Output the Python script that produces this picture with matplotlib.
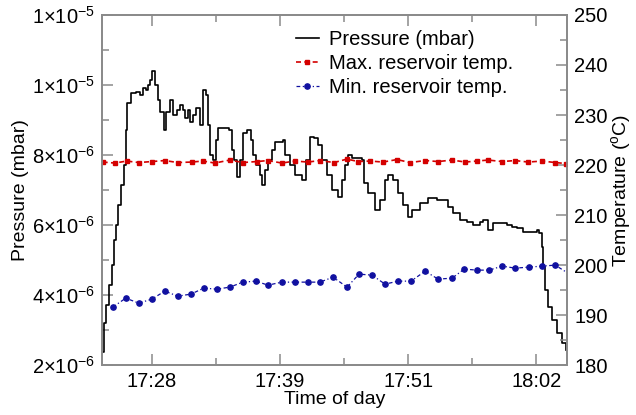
"""Pressure and reservoir temperatures vs time of day (twin y axes)."""
import matplotlib
matplotlib.use("Agg")
import matplotlib.pyplot as plt
from matplotlib.ticker import FixedLocator, MultipleLocator

plt.rcParams["font.family"] = ["Liberation Sans", "DejaVu Sans"]
plt.rcParams["mathtext.fontset"] = "custom"
plt.rcParams["mathtext.rm"] = "Liberation Sans"
plt.rcParams["mathtext.it"] = "Liberation Sans:italic"

# time in minutes after 17:00
p_time = [23.82, 24.08, 24.26, 24.53, 24.79, 24.97, 25.14, 25.32, 25.59, 25.85,
          26.03, 26.12, 26.47, 26.91, 27.27, 27.53, 27.80, 27.98, 28.15, 28.33,
          28.60, 28.86, 29.04, 29.30, 29.39, 29.57, 29.92, 30.19, 30.54, 30.81,
          31.07, 31.25, 31.52, 31.69, 31.96, 32.22, 32.58, 32.84, 33.11, 33.29,
          33.46, 33.73, 34.00, 34.17, 34.88, 35.14, 35.41, 35.59, 35.85, 36.12,
          36.38, 36.74, 37.09, 37.27, 37.53, 37.89, 38.07, 38.33, 38.60, 38.95,
          39.21, 39.92, 40.10, 40.54, 40.99, 41.60, 41.96, 42.31, 42.67, 43.02,
          43.37, 43.82, 44.26, 44.79, 45.15, 45.41, 45.68, 46.03, 46.56, 46.92,
          47.09, 47.45, 48.07, 48.51, 48.95, 49.22, 49.66, 50.10, 50.54, 50.98,
          51.34, 52.05, 52.75, 53.55, 54.08, 54.52, 54.97, 55.59, 56.21, 56.74,
          57.35, 57.62, 58.06, 58.51, 59.13, 59.75, 60.19, 60.63, 61.16, 61.78,
          62.40, 62.58, 62.84, 62.93, 63.11, 63.38, 63.73, 64.17, 64.61, 64.97]
# pressure in units of 1e-6 mbar
pressure = [2.37, 3.20, 3.71, 4.29, 4.86, 5.57, 6.00, 6.57, 7.14, 7.71,
            8.71, 9.49, 9.77, 9.80, 9.71, 9.91, 9.86, 10.00, 10.14, 10.40,
            10.00, 9.57, 9.23, 9.23, 8.71, 9.23, 9.57, 9.14, 9.29, 9.43,
            9.29, 9.06, 9.29, 8.94, 9.14, 9.34, 8.86, 9.86, 9.71, 8.86,
            8.00, 7.86, 8.43, 8.77, 8.77, 8.71, 8.14, 7.86, 7.37, 7.86,
            8.63, 8.71, 8.43, 8.00, 7.71, 7.43, 7.14, 7.57, 7.86, 8.14,
            8.37, 8.43, 8.00, 7.71, 7.43, 7.29, 7.86, 8.51, 8.49, 8.29,
            7.86, 7.43, 7.00, 6.80, 7.29, 7.71, 8.00, 7.91, 7.91, 7.86,
            7.20, 6.91, 6.43, 6.71, 7.29, 7.43, 7.29, 6.91, 6.57, 6.23,
            6.43, 6.63, 6.77, 6.71, 6.71, 6.51, 6.34, 6.14, 6.09, 6.00,
            6.09, 6.14, 5.86, 6.06, 6.06, 6.00, 5.94, 5.91, 5.80, 5.80,
            5.86, 5.77, 5.37, 4.80, 4.14, 3.66, 3.29, 2.91, 2.63, 2.43]

tmax_time = [23.99, 25.06, 26.12, 27.18, 28.33, 29.48, 30.63, 31.87, 32.84, 33.90,
             35.23, 36.38, 37.62, 38.60, 39.83, 40.98, 42.14, 43.20, 44.44, 45.59,
             46.56, 47.62, 48.77, 50.01, 51.16, 52.49, 53.64, 54.88, 56.03, 57.09,
             58.06, 59.30, 60.45, 61.60, 62.84, 63.99, 64.97]
tmax = [220.6, 220.4, 220.8, 220.5, 220.7, 220.9, 220.5, 220.6, 220.8, 220.4,
        221.0, 220.5, 220.7, 220.9, 220.4, 220.8, 220.6, 220.9, 220.5, 221.2,
        220.7, 220.8, 220.6, 221.1, 220.5, 220.9, 220.7, 221.0, 220.6, 220.8,
        221.0, 220.7, 220.9, 220.6, 220.8, 220.5, 220.3]

tmin_time = [24.88, 26.03, 27.18, 28.33, 29.48, 30.63, 31.78, 32.93, 34.08, 35.23,
             36.38, 37.53, 38.60, 39.83, 40.98, 42.14, 43.20, 44.35, 45.59, 46.65,
             47.80, 48.95, 50.10, 51.25, 52.49, 53.64, 54.88, 55.94, 57.09, 58.15,
             59.30, 60.45, 61.69, 62.84, 63.99, 64.97]
tmin = [191.6, 193.4, 192.4, 193.2, 194.8, 193.8, 194.2, 195.4, 195.2, 195.6,
        196.6, 196.8, 196.0, 196.6, 196.6, 196.6, 196.6, 197.6, 195.6, 198.2,
        198.0, 196.2, 196.8, 196.8, 198.8, 197.2, 197.4, 199.2, 199.0, 199.0,
        199.8, 199.4, 199.6, 199.8, 200.0, 198.6]

xticks = [28.33, 39.67, 51.00, 62.33]
xminor = [34.00, 45.33, 56.67]
xticklabels = ["17:28", "17:39", "17:51", "18:02"]
yticks = [2, 4, 6, 8, 10, 12]
yticklabels = [r"2$\times$10$^{-6}$", r"4$\times$10$^{-6}$", r"6$\times$10$^{-6}$",
               r"8$\times$10$^{-6}$", r"1$\times$10$^{-5}$", r"1$\times$10$^{-5}$"]

GRAY = "#8a8a8a"
RED, BLUE = "#d40000", "#1010a0"
FS = 14.5
LFS = 14

fig = plt.figure(figsize=(6.36, 4.15), dpi=100)
ax = fig.add_axes([0.160, 0.120, 0.732, 0.844])
ax2 = ax.twinx()

l1, = ax.plot(p_time, pressure, color="black", lw=1.2, drawstyle="steps-post",
              label="Pressure (mbar)")
l2, = ax2.plot(tmax_time, tmax, color=RED, lw=1.2, ls=(0, (3, 2)), marker="s", ms=3.5,
               label="Max. reservoir temp.")
l3, = ax2.plot(tmin_time, tmin, color=BLUE, lw=0.9, ls=(0, (3, 2, 1, 2)), marker="o", ms=3.8,
               markevery=list(range(len(tmin) - 1)), label="Min. reservoir temp.")

ax.set_xlim(23.91, 65.06)
ax.set_ylim(2, 12)
ax2.set_ylim(180, 250)

ax.xaxis.set_major_locator(FixedLocator(xticks))
ax.xaxis.set_minor_locator(FixedLocator(xminor))
ax.set_xticklabels(xticklabels)
ax.yaxis.set_major_locator(FixedLocator(yticks))
ax.yaxis.set_minor_locator(MultipleLocator(1))
ax.set_yticklabels(yticklabels)
ax2.yaxis.set_major_locator(MultipleLocator(10))
ax2.yaxis.set_minor_locator(MultipleLocator(5))

for a in (ax, ax2):
    for s in a.spines.values():
        s.set_color(GRAY)
        s.set_linewidth(1.3)
    a.tick_params(which="both", direction="in", color=GRAY, width=1.1, labelsize=FS,
                  labelcolor="black", pad=5)
    a.tick_params(which="major", length=8)
    a.tick_params(which="minor", length=5)
ax.tick_params(which="both", top=True, right=False)

ax.set_xlabel("Time of day", fontsize=LFS, labelpad=0)
ax.set_ylabel("Pressure (mbar)", fontsize=LFS, labelpad=2)
ax2.set_ylabel(r"Temperature ($^{\rm o}$C)", fontsize=LFS, labelpad=1)

ax2.legend([l1, l2, l3], [l.get_label() for l in (l1, l2, l3)],
           loc="upper left", bbox_to_anchor=(0.466, 0.927),
           bbox_transform=fig.transFigure, frameon=False, fontsize=FS,
           handlelength=1.1, handletextpad=0.5, labelspacing=0.25,
           borderaxespad=0, borderpad=0)

fig.savefig("out.png", dpi=100)
